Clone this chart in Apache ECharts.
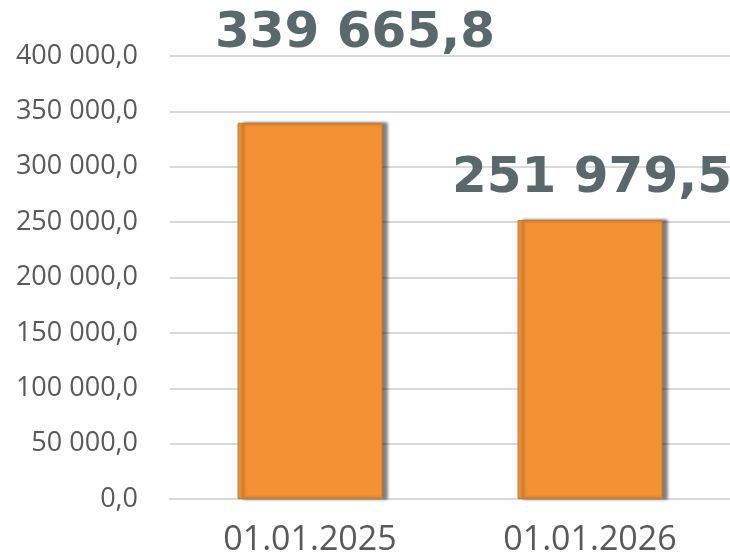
<!DOCTYPE html>
<html>
<head>
<meta charset="utf-8">
<script src="https://cdn.jsdelivr.net/npm/echarts@6/dist/echarts.min.js"></script>
<style>
  html, body { margin: 0; padding: 0; background: #fff; }
  #chart { width: 730px; height: 559px; }
</style>
</head>
<body>
<div id="chart"></div>
<script>
var categories = ['01.01.2025', '01.01.2026'];
var values = [339665.8, 251979.5];
var labelOffsets = [[45, -48], [2, 0]];

function fmt(v, dec) {
  var s = v.toFixed(dec).split('.');
  var int = s[0].replace(/\B(?=(\d{3})+(?!\d))/g, ' ');
  return dec ? int + ',' + s[1] : int;
}

var myChart = echarts.init(document.getElementById('chart'));
var option = {
  animation: false,
  grid: { left: 170, right: 0, top: 56, bottom: 60 },
  xAxis: {
    type: 'category',
    data: categories,
    axisLine: { lineStyle: { color: '#d9d9d9', width: 2 } },
    axisTick: { show: false },
    axisLabel: { color: '#595959', fontSize: 34, fontFamily: 'Open Sans', margin: 24 }
  },
  yAxis: {
    type: 'value',
    min: 0,
    max: 400000,
    interval: 50000,
    axisLine: { show: false },
    axisTick: { show: false },
    splitLine: { lineStyle: { color: '#d9d9d9', width: 2 } },
    axisLabel: {
      color: '#595959', fontSize: 27, fontFamily: 'Open Sans', margin: 32,
      formatter: function (v) { return fmt(v, 1); }
    }
  },
  series: [{
    type: 'bar',
    barWidth: 145,
    data: values.map(function (v, i) {
      return { value: v, label: { offset: labelOffsets[i] } };
    }),
    itemStyle: {
      color: '#F39134',
      borderColor: '#c97a30',
      borderWidth: 1,
      shadowColor: 'rgba(0,0,0,0.5)',
      shadowBlur: 3,
      shadowOffsetX: 5,
      shadowOffsetY: 0
    },
    label: {
      show: true,
      position: 'top',
      distance: 16,
      color: '#59686A',
      fontSize: 50,
      fontWeight: 'bold',
      fontFamily: 'DejaVu Sans',
      formatter: function (p) { return fmt(p.value, 1); }
    }
  }]
};
option && myChart.setOption(option);
</script>
</body>
</html>
